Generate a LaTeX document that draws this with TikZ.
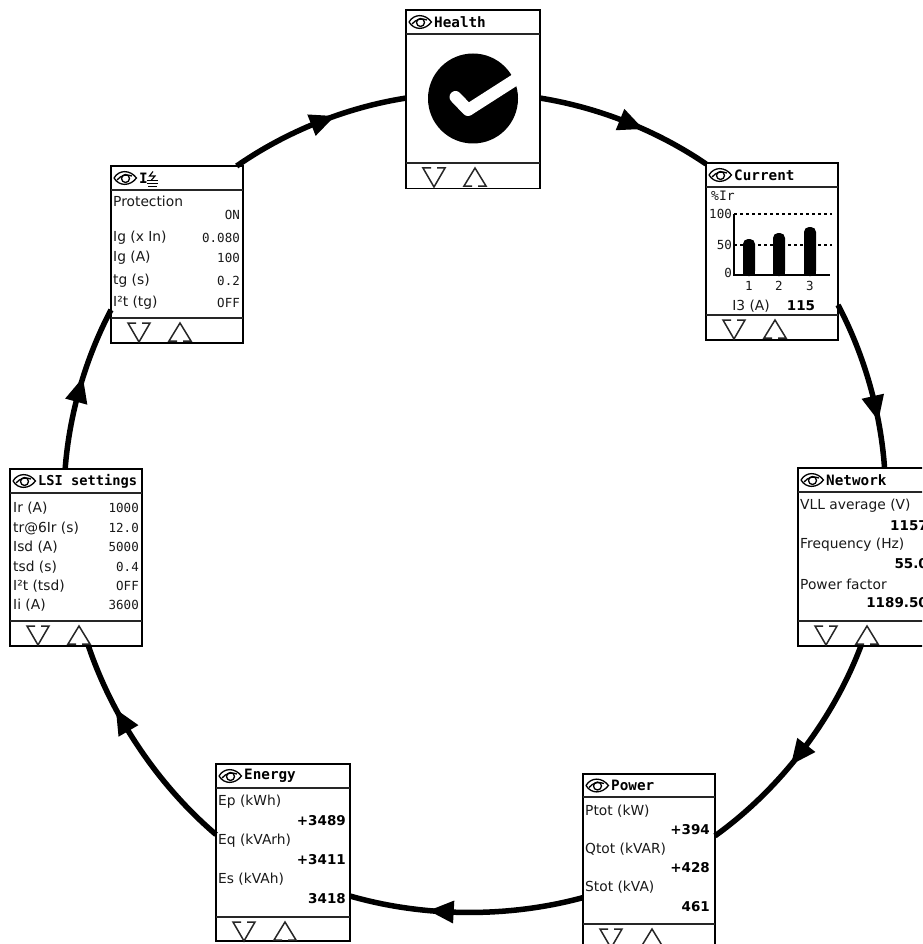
\documentclass[tikz,border=0pt]{standalone}
\usepackage{fontspec}
\usetikzlibrary{arrows.meta,decorations.markings,calc}
\setmainfont{DejaVu Sans}
\newfontfamily\monofam{DejaVu Sans Mono}
\newcommand{\hdfont}{\monofam\bfseries\fontsize{14.3}{14.3}\selectfont}
\newcommand{\txfont}{\fontsize{13.8}{13.8}\selectfont}
\newcommand{\numfont}{\monofam\fontsize{12.5}{12.5}\selectfont}
\newcommand{\bigfont}{\bfseries\fontsize{13.5}{13.5}\selectfont}
\tikzset{
  x=1pt,y=-1pt,
  panel/.style={draw=black,line width=1.5pt,fill=white,minimum width=#1,inner sep=0pt,outer sep=0pt,rectangle},
  sep/.style={draw=black!85,line width=1.5pt},
  lbl/.style={anchor=west,inner sep=0pt,font=\txfont,text=black!90},
  val/.style={anchor=east,inner sep=0pt,font=\numfont,text=black!90},
  bigval/.style={anchor=east,inner sep=0pt,font=\bigfont},
  head/.style={anchor=west,inner sep=0pt,font=\hdfont},
  ring/.style={line width=5.5pt,draw=black,looseness=0.85},
  tri/.style={draw=black!85,line width=1.5pt,line join=miter},
  eye/.pic={
    \draw[line width=1.3pt] (0,0) .. controls (5,-8.5) and (16,-8.5) .. (22.5,0)
       .. controls (16,8.5) and (5,8.5) .. (0,0);
    \draw[line width=1.3pt] (11.5,0.5) circle[radius=4];
    \draw[line width=1.3pt] (3,2) .. controls (7,-3) and (13,-4) .. (18,-2);
  },
  keys/.pic={
    \draw[tri] (25,0) -- (17,0) -- (28,19) -- (39,0) -- (31,0);
    \draw[tri] (66,18) -- (58,18) -- (69,0) -- (80,18) -- (72,18);
  },
  arrowat/.style={postaction={decorate,decoration={markings,
    mark=at position #1 with {\pgftransformrotate{2}\arrow[line width=0pt]{Triangle[length=25pt,width=23pt]}}}}}
}
\newcommand{\mkpanel}[8]{% name, left, top, right, bottom, header y, footer y, title
  \node[panel=#4-#2,minimum height=#5-#3] (#1) at ({(#2+#4)/2},{(#3+#5)/2}) {};
  \draw[sep] (#2,#6) -- (#4,#6);
  \draw[sep] (#2,#7) -- (#4,#7);
  \pic at ({#2+3},{(#3+#6)/2}) {eye};
  \pic at (#2,{#7+5}) {keys};
  \node[head] (#1title) at ({#2+28},{(#3+#6)/2}) {#8};
}
\begin{document}
\begin{tikzpicture}
\clip (0,0) rectangle (922,944);
\fill[white] (0,0) rectangle (922,944);

\mkpanel{health}{406}{10}{540}{188.5}{34}{163}{Health}
\mkpanel{current}{706}{163}{838}{340}{187}{315}{Current}
\mkpanel{network}{798}{468}{930}{646}{492}{621}{Network}
\mkpanel{power}{583}{774}{715}{951}{797}{924}{Power}
\mkpanel{energy}{216}{764}{350}{941}{788}{917}{Energy}
\mkpanel{lsi}{10}{469}{142}{646}{493}{621}{\fontsize{13.7}{13.7}\selectfont LSI settings}
\mkpanel{gf}{111}{166}{243}{343}{190}{318}{I}

% connectors of the ring
\draw[ring,arrowat=0.60] (health.1) to[bend left=12.6] (current.127);
\draw[ring,arrowat=0.72] (current.-39) to[bend left=11.9] (network.77.3);
\draw[ring,arrowat=0.57] (network.-92.6) to[bend left=16.8] (power.22.6);
\draw[ring,arrowat=0.66] (power.-152.4) to[bend left=15.6] (energy.-33.6);
\draw[ring,arrowat=0.70] (energy.165) to[bend left=15.4] (lsi.-82.3);
\draw[ring,arrowat=0.56] (lsi.97) to[bend left=11.7] (gf.-140);
\draw[ring,arrowat=0.60] (gf.56.8) to[bend left=13] (health.179);

% Health
\fill[black] (473,98.5) circle[radius=45];
\draw[white,line width=12pt,line join=round,line cap=round] (455.5,97) -- (468,110);
\draw[white,line width=12pt,line join=round] (468,110) -- (518,78);

% Current
\node[lbl] (curunit) at (711,196) {\monofam\fontsize{13}{13}\selectfont\%Ir};
\draw[line width=1.5pt,dash pattern=on 3pt off 3pt] (734,214) -- (832,214);
\draw[line width=1.5pt,dash pattern=on 3pt off 3pt] (734,245) -- (832,245);
\foreach \x/\t in {743/239,773/233,804/227}{
  \fill[black,rounded corners=5pt] (\x,276) -- (\x,\t) -- (\x+12,\t) -- (\x+12,276) -- cycle;
  \fill[black] (\x,265) rectangle (\x+12,275);
}
\draw[line width=1.2pt] (734,214) -- (734,275) -- (830,275);
\node[val] (cur100) at (732,214) {100};
\node[val] (cur50) at (732,245) {50};
\node[val] (cur0) at (732,273) {0};
\node[val,anchor=center] (cur1) at (749,286) {1};
\node[val,anchor=center] (cur2) at (779,286) {2};
\node[val,anchor=center] (cur3) at (810,286) {3};
\node[lbl,anchor=center] (curi) at (751,306) {I3 (A)};
\node[bigval,anchor=center] (curv) at (801,306) {115};

% Network
\node[lbl] (net1) at (800,506) {VLL average (V)};
\node[bigval] (net2) at (928,526) {1157};
\node[lbl] (net3) at (800,545) {Frequency (Hz)};
\node[bigval] (net4) at (928,564) {55.0};
\node[lbl] (net5) at (800,584) {Power factor};
\node[bigval] (net6) at (928,603) {1189.50};

% Power
\node[lbl] (pow1) at (585,811) {Ptot (kW)};
\node[bigval] (pow2) at (710,830) {+394};
\node[lbl] (pow3) at (585,849) {Qtot (kVAR)};
\node[bigval] (pow4) at (710,868) {+428};
\node[lbl] (pow5) at (585,887) {Stot (kVA)};
\node[bigval] (pow6) at (710,907) {461};

% Energy
\node[lbl] (ene1) at (218,802) {Ep (kWh)};
\node[bigval] (ene2) at (346,821) {+3489};
\node[lbl] (ene3) at (218,841) {Eq (kVArh)};
\node[bigval] (ene4) at (346,860) {+3411};
\node[lbl] (ene5) at (218,879) {Es (kVAh)};
\node[bigval] (ene6) at (346,899) {3418};

% LSI settings
\node[lbl] (lsia) at (13,508) {Ir (A)};
\node[val] (lsiA) at (139,508) {1000};
\node[lbl] (lsib) at (13,528) {tr@6Ir (s)};
\node[val] (lsiB) at (139,528) {12.0};
\node[lbl] (lsic) at (13,547) {Isd (A)};
\node[val] (lsiC) at (139,547) {5000};
\node[lbl] (lsid) at (13,567) {tsd (s)};
\node[val] (lsiD) at (139,567) {0.4};
\node[lbl] (lsie) at (13,586) {I²t (tsd)};
\node[val] (lsiE) at (139,586) {OFF};
\node[lbl] (lsif) at (13,605) {Ii (A)};
\node[val] (lsiF) at (139,605) {3600};

% Ig
\draw[line width=1.1pt] (153,171.5) -- (149.5,176) -- (155,176) -- (151.5,180);
\draw[line width=1.2pt] (147,180.5) -- (157.5,180.5) (147,183.5) -- (157.5,183.5) (148,186.5) -- (156.5,186.5);
\node[lbl] (gfa) at (113,201) {Protection};
\node[val] (gfA) at (240,215) {ON};
\node[lbl] (gfb) at (113,238) {Ig (x In)};
\node[val] (gfB) at (240,238) {0.080};
\node[lbl] (gfc) at (113,258) {Ig (A)};
\node[val] (gfC) at (240,258) {100};
\node[lbl] (gfd) at (113,281) {tg (s)};
\node[val] (gfD) at (240,281) {0.2};
\node[lbl] (gfe) at (113,303) {I²t (tg)};
\node[val] (gfE) at (240,303) {OFF};
\end{tikzpicture}
\end{document}
